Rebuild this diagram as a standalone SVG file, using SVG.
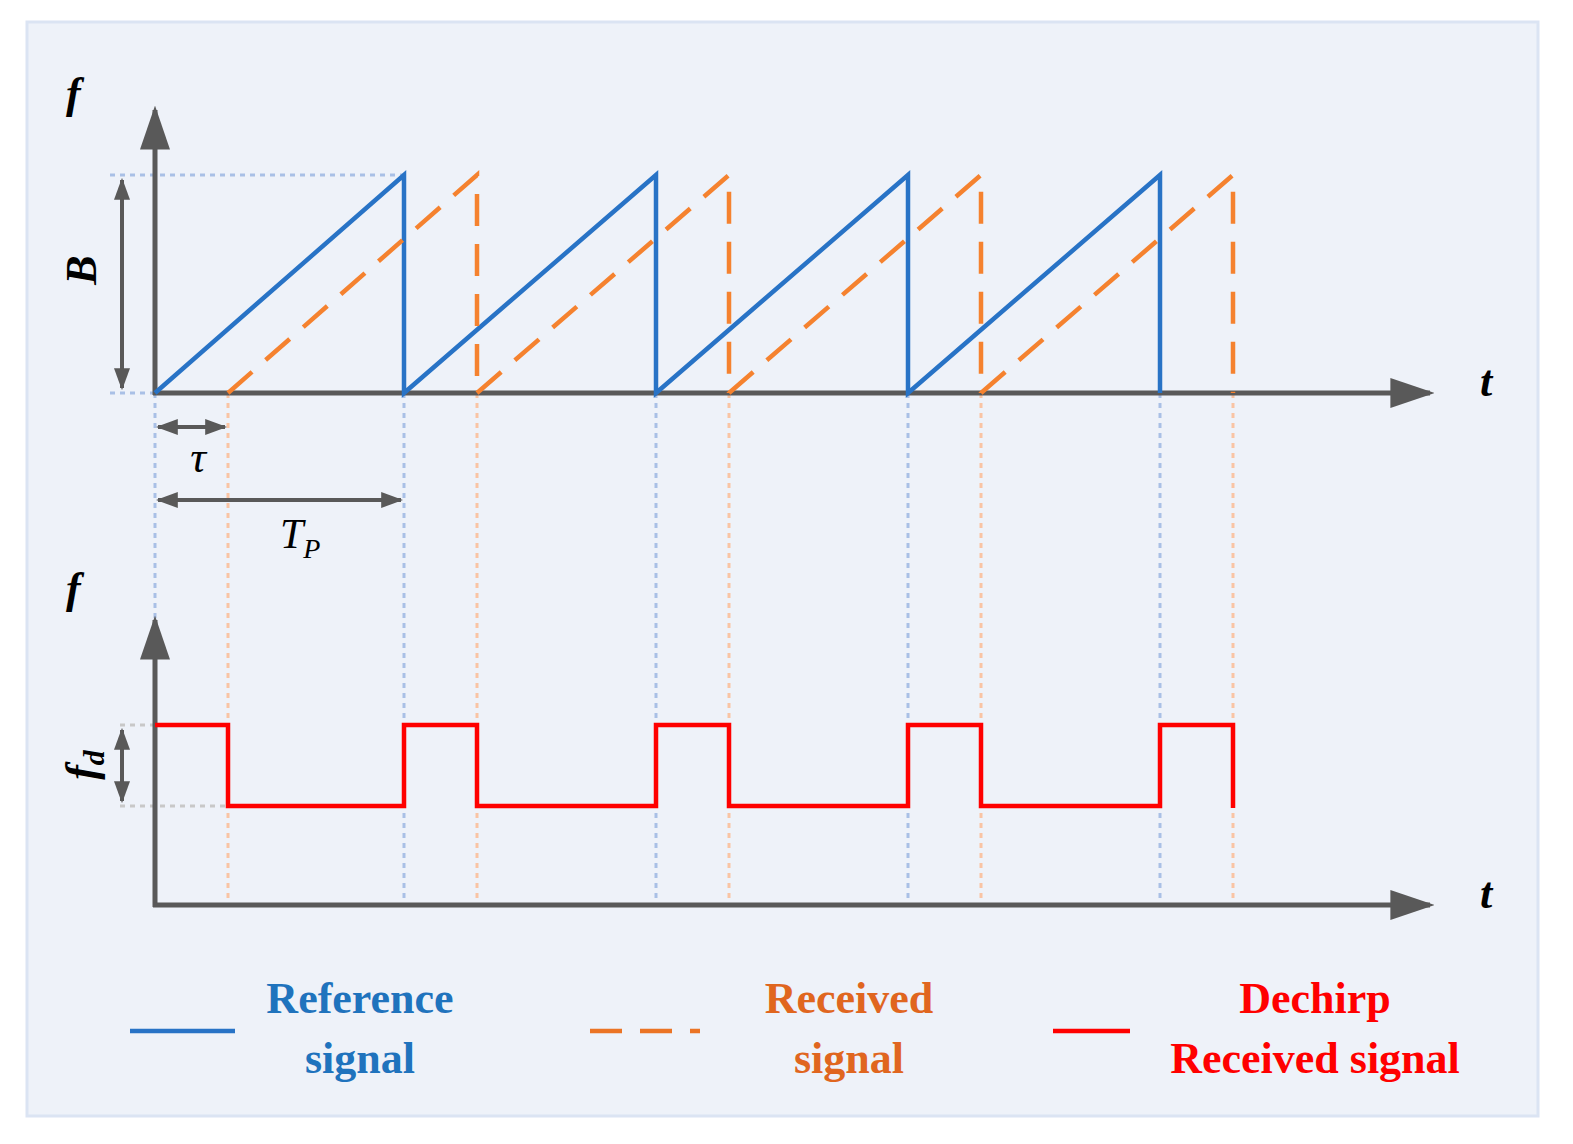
<svg xmlns="http://www.w3.org/2000/svg" width="1573" height="1144" viewBox="0 0 1573 1144">
<defs>
<marker id="ah" markerWidth="10" markerHeight="8" refX="9" refY="4" orient="auto" markerUnits="userSpaceOnUse" viewBox="0 0 10 8"><path d="M0,0 L10,4 L0,8 z" fill="#595959"/></marker>
<marker id="big" viewBox="0 0 10 10" refX="9" refY="5" markerWidth="44" markerHeight="30" orient="auto" markerUnits="userSpaceOnUse" preserveAspectRatio="none"><path d="M0,0 L10,5 L0,10 z" fill="#595959"/></marker>
<marker id="sm" viewBox="0 0 10 10" refX="9" refY="5" markerWidth="22" markerHeight="16" orient="auto-start-reverse" markerUnits="userSpaceOnUse" preserveAspectRatio="none"><path d="M0,0 L10,5 L0,10 z" fill="#595959"/></marker>
</defs>
<style>
.ax{stroke:#595959;stroke-width:5;fill:none}
.dim{stroke:#595959;stroke-width:4;fill:none}
.blue{stroke:#2873c6;stroke-width:4.5;fill:none}
.or{stroke:#f5822f;stroke-width:4.5;fill:none;stroke-dasharray:32 18}
.red{stroke:#ff0000;stroke-width:4.5;fill:none}
.bd{stroke:#a9c0e6;stroke-width:3;stroke-dasharray:5 5;fill:none}
.od{stroke:#f9c4a4;stroke-width:3;stroke-dasharray:5 5;fill:none}
.gd{stroke:#c8c8c8;stroke-width:3;stroke-dasharray:5 5;fill:none}
.lab{font-family:"Liberation Serif",serif;font-weight:bold;font-style:italic;font-size:44px;fill:#000}
.leg{font-family:"Liberation Serif",serif;font-weight:bold;font-size:44px;text-anchor:middle}
</style>
<rect x="27" y="22" width="1511" height="1094" fill="#eef2f9" stroke="#dbe4f3" stroke-width="3"/>
<g id="guides">
<path class="bd" d="M110,175 H404 M110,393 H155"/>
<path class="bd" d="M155,393 V905 M404,393 V905 M656,393 V905 M908,393 V905 M1160,393 V905"/>
<path class="od" d="M228,393 V905 M477,393 V905 M729,393 V905 M981,393 V905 M1233,393 V905"/>
<path class="gd" d="M120,725 H155 M120,806 H228"/>
</g>
<g id="axes">
<path class="ax" d="M155,395 V110" marker-end="url(#big)"/>
<path class="ax" d="M153,393 H1430" marker-end="url(#big)"/>
<path class="ax" d="M155,907 V620" marker-end="url(#big)"/>
<path class="ax" d="M153,905 H1430" marker-end="url(#big)"/>
</g>
<g id="signals">
<path class="blue" d="M155,393 L404,175 V393 L656,175 V393 L908,175 V393 L1160,175 V393"/>
<path class="or" d="M228,393 L477,175 V393"/>
<path class="or" d="M477,393 L729,175 V393"/>
<path class="or" d="M729,393 L981,175 V393"/>
<path class="or" d="M981,393 L1233,175 V393"/>
<path class="red" d="M155,725 H228 V806 H404 V725 H477 V806 H656 V725 H729 V806 H908 V725 H981 V806 H1160 V725 H1233 V808"/>
</g>
<g id="dims">
<path class="dim" d="M122,180 V388" marker-start="url(#sm)" marker-end="url(#sm)"/>
<path class="dim" d="M122,730 V801" marker-start="url(#sm)" marker-end="url(#sm)"/>
<path class="dim" d="M158,427 H225" marker-start="url(#sm)" marker-end="url(#sm)"/>
<path class="dim" d="M158,500 H401" marker-start="url(#sm)" marker-end="url(#sm)"/>
</g>
<g id="labels">
<text class="lab" x="66" y="108">f</text>
<text class="lab" x="66" y="603">f</text>
<text class="lab" x="1480" y="396">t</text>
<text class="lab" x="1480" y="908">t</text>
<text class="lab" transform="translate(96,270) rotate(-90)" text-anchor="middle">B</text>
<text class="lab" transform="translate(96,765) rotate(-90)" text-anchor="middle">f<tspan font-size="30" dy="8">d</tspan></text>
<text x="198" y="472" font-family="Liberation Serif,serif" font-style="italic" font-size="44" text-anchor="middle">τ</text>
<text x="280" y="548" font-family="Liberation Serif,serif" font-style="italic" font-size="42">T<tspan font-size="28" dy="10">P</tspan></text>
</g>
<g id="legend">
<line x1="130" y1="1031" x2="235" y2="1031" class="blue"/>
<text class="leg" x="360" y="1013" fill="#1f73bd">Reference</text>
<text class="leg" x="360" y="1073" fill="#1f73bd">signal</text>
<line x1="590" y1="1031" x2="700" y2="1031" class="or" style="stroke:#eb7425"/>
<text class="leg" x="849" y="1013" fill="#e0661f">Received</text>
<text class="leg" x="849" y="1073" fill="#e0661f">signal</text>
<line x1="1053" y1="1031" x2="1130" y2="1031" class="red"/>
<text class="leg" x="1315" y="1013" fill="#ff0000">Dechirp</text>
<text class="leg" x="1315" y="1073" fill="#ff0000">Received signal</text>
</g>
</svg>
